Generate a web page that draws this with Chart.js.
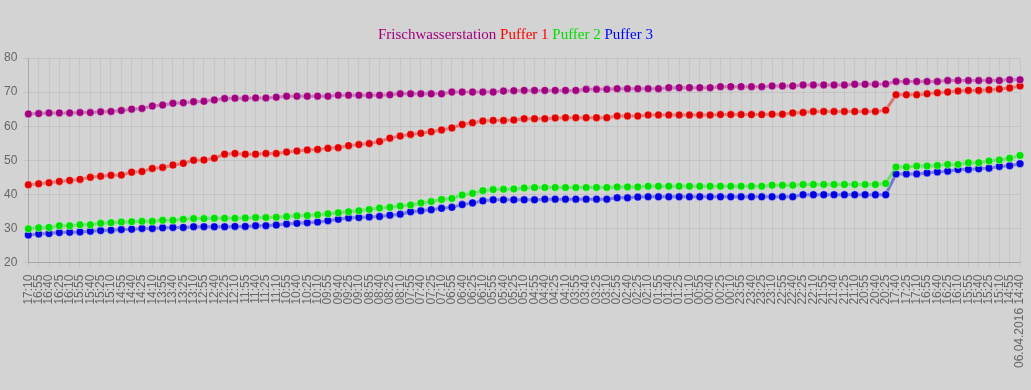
<!DOCTYPE html>
<html>
<head>
<meta charset="utf-8">
<script src="https://cdn.jsdelivr.net/npm/chart.js@4/dist/chart.umd.min.js"></script>
<style>
  html, body { margin: 0; padding: 0; background: #d3d3d3; }
  #wrap { position: relative; width: 1031px; height: 390px; }
  #title {
    position: absolute; left: 0; top: 25px; width: 1031px;
    text-align: center; font-family: "Liberation Serif", serif; font-size: 15px; line-height: 18px;
  }
</style>
</head>
<body>
<div id="wrap">
  <div id="title"><span style="color:#a0007f">Frischwasserstation</span> <span style="color:#ff0000">Puffer 1</span> <span style="color:#00e000">Puffer 2</span> <span style="color:#0000ff">Puffer 3</span></div>
  <canvas id="myChart" width="1031" height="390"></canvas>
</div>
<script>
var timeLabels = [
  "17:10", "16:55", "16:40", "16:25", "16:10", "15:55", "15:40", "15:25", "15:10", "14:55",
  "14:40", "14:25", "14:10", "13:55", "13:40", "13:25", "13:10", "12:55", "12:40", "12:25",
  "12:10", "11:55", "11:40", "11:25", "11:10", "10:55", "10:40", "10:25", "10:10", "09:55",
  "09:40", "09:25", "09:10", "08:55", "08:40", "08:25", "08:10", "07:55", "07:40", "07:25",
  "07:10", "06:55", "06:40", "06:25", "06:10", "05:55", "05:40", "05:25", "05:10", "04:55",
  "04:40", "04:25", "04:10", "03:55", "03:40", "03:25", "03:10", "02:55", "02:40", "02:25",
  "02:10", "01:55", "01:40", "01:25", "01:10", "00:55", "00:40", "00:25", "00:10", "23:55",
  "23:40", "23:25", "23:10", "22:55", "22:40", "22:25", "22:10", "21:55", "21:40", "21:25",
  "21:10", "20:55", "20:40", "20:25", "17:40", "17:25", "17:10", "16:55", "16:40", "16:25",
  "16:10", "15:55", "15:40", "15:25", "15:10", "14:55", "06.04.2016 14:40"
];

var frischwasser = [
  63.6, 63.7, 63.9, 63.9, 63.9, 64.0, 64.0, 64.2, 64.3, 64.6,
  65.0, 65.2, 65.9, 66.2, 66.7, 66.9, 67.2, 67.3, 67.7, 68.1,
  68.2, 68.2, 68.3, 68.3, 68.5, 68.8, 68.8, 68.8, 68.8, 68.8,
  69.1, 69.1, 69.1, 69.1, 69.1, 69.2, 69.5, 69.5, 69.5, 69.5,
  69.5, 70.0, 70.0, 70.0, 70.0, 70.0, 70.3, 70.4, 70.5, 70.5,
  70.5, 70.5, 70.5, 70.5, 70.8, 70.8, 70.8, 71.0, 71.0, 71.0,
  71.0, 71.0, 71.3, 71.3, 71.3, 71.3, 71.3, 71.6, 71.6, 71.6,
  71.6, 71.6, 71.8, 71.8, 71.8, 72.1, 72.1, 72.1, 72.1, 72.1,
  72.3, 72.3, 72.3, 72.4, 73.1, 73.1, 73.1, 73.1, 73.1, 73.4,
  73.4, 73.4, 73.4, 73.4, 73.4, 73.6, 73.6
];

var puffer1 = [
  42.8, 43.1, 43.4, 43.8, 44.1, 44.4, 45.0, 45.3, 45.6, 45.7,
  46.5, 46.7, 47.6, 47.9, 48.6, 49.1, 50.0, 50.1, 50.6, 51.8,
  52.0, 51.8, 51.8, 52.0, 52.0, 52.4, 52.7, 53.0, 53.2, 53.5,
  53.7, 54.3, 54.6, 54.9, 55.5, 56.5, 57.1, 57.6, 57.9, 58.4,
  58.9, 59.5, 60.5, 61.0, 61.5, 61.7, 61.7, 61.8, 62.2, 62.2,
  62.2, 62.4, 62.5, 62.5, 62.5, 62.5, 62.5, 63.0, 63.0, 63.0,
  63.3, 63.3, 63.3, 63.3, 63.3, 63.3, 63.3, 63.4, 63.4, 63.4,
  63.4, 63.4, 63.5, 63.5, 63.9, 64.0, 64.3, 64.3, 64.3, 64.3,
  64.3, 64.3, 64.3, 64.7, 69.2, 69.2, 69.2, 69.5, 69.8, 70.0,
  70.3, 70.5, 70.5, 70.7, 70.9, 71.2, 71.8
];

var puffer2 = [
  29.9, 30.2, 30.3, 30.8, 30.8, 31.1, 31.1, 31.5, 31.7, 31.9,
  32.0, 32.1, 32.1, 32.4, 32.4, 32.7, 32.9, 32.9, 33.0, 33.0,
  33.0, 33.1, 33.2, 33.2, 33.3, 33.5, 33.7, 33.8, 34.0, 34.3,
  34.6, 34.9, 35.2, 35.6, 36.0, 36.2, 36.6, 36.9, 37.5, 37.9,
  38.5, 38.8, 39.8, 40.3, 41.1, 41.4, 41.5, 41.6, 41.9, 42.0,
  42.0, 42.0, 42.0, 42.0, 42.0, 42.0, 42.0, 42.2, 42.2, 42.2,
  42.4, 42.4, 42.4, 42.4, 42.4, 42.4, 42.4, 42.4, 42.4, 42.4,
  42.4, 42.4, 42.7, 42.7, 42.7, 42.9, 42.9, 42.9, 42.9, 42.9,
  42.9, 42.9, 42.9, 43.2, 48.0, 48.0, 48.3, 48.3, 48.5, 48.8,
  48.8, 49.3, 49.3, 49.8, 50.1, 50.6, 51.4
];

var puffer3 = [
  28.1, 28.4, 28.5, 28.8, 28.9, 29.0, 29.2, 29.4, 29.5, 29.7,
  29.8, 30.0, 30.0, 30.2, 30.3, 30.3, 30.5, 30.5, 30.5, 30.5,
  30.6, 30.6, 30.8, 30.8, 31.0, 31.3, 31.5, 31.7, 31.9, 32.3,
  32.7, 33.1, 33.2, 33.4, 33.5, 33.9, 34.2, 34.9, 35.2, 35.5,
  35.9, 36.2, 37.0, 37.5, 38.1, 38.4, 38.4, 38.4, 38.4, 38.4,
  38.6, 38.6, 38.6, 38.6, 38.6, 38.6, 38.6, 39.0, 39.0, 39.2,
  39.3, 39.3, 39.3, 39.3, 39.3, 39.3, 39.3, 39.3, 39.3, 39.3,
  39.3, 39.3, 39.3, 39.3, 39.3, 39.9, 39.9, 39.9, 39.9, 39.9,
  39.9, 39.9, 39.9, 39.9, 46.0, 46.0, 46.0, 46.3, 46.6, 46.8,
  47.3, 47.3, 47.5, 47.7, 48.2, 48.4, 49.0
];

var yTicks = [20, 30, 40, 50, 60, 70, 80];

function MakeSet(values, color, lineColor) {
  return {
    data: values,
    borderColor: lineColor,
    borderWidth: 3,
    backgroundColor: color,
    pointBackgroundColor: color,
    pointBorderColor: "rgba(255,255,255,0.45)",
    pointBorderWidth: 1,
    pointRadius: 4,
    tension: 0,
    fill: false,
  };
}

new Chart("myChart", {
  type: "line",
  data: {
    labels: timeLabels,
    datasets: [
      MakeSet(frischwasser, "#a0007f", "rgba(160,0,127,0.45)"),
      MakeSet(puffer1, "#e00000", "rgba(224,0,0,0.45)"),
      MakeSet(puffer2, "#00e000", "rgba(0,224,0,0.45)"),
      MakeSet(puffer3, "#0000e0", "rgba(0,0,224,0.45)"),
    ],
  },
  options: {
    responsive: false,
    animation: false,
    layout: { padding: { top: 58, left: -2, right: 11, bottom: 15 } },
    plugins: { legend: { display: false }, tooltip: { enabled: false } },
    scales: {
      x: {
        afterFit: (axis) => {
          axis.paddingRight = 0;
        },
        grid: { color: "rgba(0,0,0,0.06)", tickLength: 5 },
        border: { color: "rgba(0,0,0,0.15)" },
        ticks: {
          autoSkip: false,
          minRotation: 90,
          maxRotation: 90,
          padding: 7,
          color: "#666",
          font: { family: "Liberation Sans", size: 12 },
        },
      },
      y: {
        min: 20,
        max: 80,
        afterBuildTicks: (axis) => {
          axis.ticks = yTicks.map((v) => ({ value: v }));
        },
        grid: { color: "rgba(0,0,0,0.07)", tickLength: 5 },
        border: { color: "rgba(0,0,0,0.15)" },
        ticks: {
          padding: 6,
          color: "#666",
          font: { family: "Liberation Sans", size: 12 },
        },
      },
    },
  },
});
</script>
</body>
</html>
